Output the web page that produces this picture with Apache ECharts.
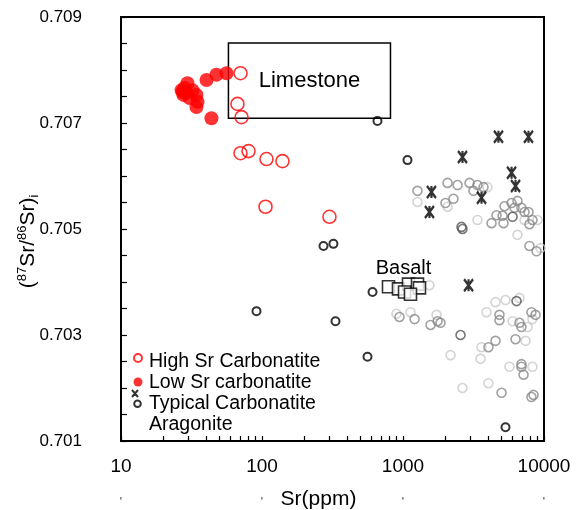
<!DOCTYPE html>
<html>
<head>
<meta charset="utf-8">
<script src="https://cdn.jsdelivr.net/npm/echarts@6/dist/echarts.min.js"></script>
<style>
  html, body { margin: 0; padding: 0; background: #fff; }
  #chart { width: 576px; height: 510px; }
</style>
</head>
<body>
<div id="chart"></div>
<script>
// Sr (ppm), (87Sr/86Sr)i
const highSr = [[70.4,0.70794],[67.0,0.70736],[71.6,0.70711],[70.4,0.70643],[80.2,0.70647],
  [107.6,0.70632],[139.7,0.70628],[105.9,0.70542],[301,0.70523]];
const lowSr = [[56.0,0.70794],[47.5,0.70791],[40.4,0.70781],[29.6,0.70775],[28.2,0.70766],
  [26.9,0.70762],[32.1,0.70762],[27.3,0.70759],[29.2,0.70757],[27.7,0.70753],[34.3,0.70753],
  [30.6,0.70747],[34.9,0.70740],[34.3,0.70730],[43.8,0.70709]];
const typical = [[659,0.70704],[1076,0.70630],[273,0.70468],[321,0.70472],[608,0.70381],
  [91.4,0.70345],[332,0.70326],[560,0.70259],[5333,0.70126]];
const aragonite = [[4755,0.70674],[7762,0.70674],[2642,0.70636],[5888,0.70606],[6281,0.70581],
  [1592,0.70570],[3605,0.70559],[1541,0.70532],[2917,0.70394]];
const basalt = [[789,0.70391],[929,0.70387],[1094,0.70396],[1267,0.70396],[1309,0.70389],
  [1025,0.70381],[1130,0.70377]];
// compiled carbonatites (grey shades)
const greyMid = [[1267,0.70572],[2070,0.70587],[2438,0.70583],[2000,0.70549],[2280,0.70557],
  [2965,0.70587],[3162,0.70572],[3373,0.70583],[3724,0.70579],[4246,0.70511],[4603,0.70526],
  [5082,0.70525],[5164,0.70511],[5248,0.70543],[5888,0.70549],[6486,0.70553],[6180,0.70540],
  [6918,0.70540],[7278,0.70532],[7762,0.70532],[7889,0.70509],[8279,0.70517],[7889,0.70468],
  [8851,0.70458],[944,0.70334],[1208,0.70330],[1567,0.70319],[1758,0.70326],[1845,0.70323],
  [4831,0.70338],[4831,0.70328],[6699,0.70323],[6918,0.70315],[8147,0.70343],[8710,0.70338],
  [4036,0.70277],[4529,0.70289],[6281,0.70292],[6918,0.70245],[6918,0.70240],[7161,0.70225],
  [5000,0.70191],[8147,0.70183],[8433,0.70187]];
const greyDark = [[2600,0.70504],[2642,0.70500],[5984,0.70523],[2559,0.70300],[6383,0.70364]];
const greyLight = [[1267,0.70551],[2070,0.70542],[3972,0.70579],[3373,0.70517],[8995,0.70517],
  [7278,0.70517],[6486,0.70489],[9441,0.70464],[899,0.70340],[1130,0.70343],[1729,0.70338],
  [3908,0.70343],[4529,0.70362],[5333,0.70366],[6699,0.70370],[5984,0.70326],[7638,0.70315],
  [8279,0.70330],[3605,0.70277],[7396,0.70289],[2173,0.70262],[3550,0.70255],[5689,0.70240],
  [8279,0.70240],[2642,0.70200],[4036,0.70209],[1541,0.70394]];

const limestoneX = [57.8, 815];
const limestoneY = [0.70709, 0.70851];
const basaltLabelAt = [1008, 0.70426];

const xTicks = [10,20,30,40,50,60,70,80,90,100,200,300,400,500,600,700,800,900,
  1000,2000,3000,4000,5000,6000,7000,8000,9000,10000];
const xLabels = [10, 100, 1000, 10000];
const yLabels = [0.701, 0.703, 0.705, 0.707, 0.709];

const FONT = 'Liberation Sans, Arial, sans-serif';
const ASTER = 'path://M0,0L8,11M8,0L0,11M4,0L4,11';

const chart = echarts.init(document.getElementById('chart'));

function greySeries(data, color) {
  return {
    type: 'scatter', data: data, symbol: 'circle', symbolSize: 9,
    itemStyle: { color: 'transparent', borderColor: color, borderWidth: 1.6 },
    silent: true
  };
}

chart.setOption({
  animation: false,
  backgroundColor: '#fff',
  grid: {
    left: 121, top: 17, right: 32, bottom: 69, outerBoundsMode: 'none',
    show: true, borderColor: '#000', borderWidth: 2
  },
  legend: {
    left: 131, top: 347, orient: 'vertical', padding: 0,
    itemWidth: 12, itemHeight: 28, itemGap: -8,
    selectedMode: false,
    textStyle: { fontFamily: FONT, fontSize: 19.5, color: '#000' },
    data: [
      { name: 'High Sr Carbonatite', icon: 'path://M0,0M12,28M2,10a4,4 0 1,0 8,0a4,4 0 1,0 -8,0' },
      { name: 'Low Sr carbonatite', icon: 'path://M0,0M12,28M1.5,13a4.5,4.5 0 1,0 9,0a4.5,4.5 0 1,0 -9,0' },
      { name: 'Typical Carbonatite', icon: 'path://M0,0M12,28M0,0L6,7M6,0L0,7M2.2,13.7a3.3,3.3 0 1,0 6.6,0a3.3,3.3 0 1,0 -6.6,0' },
      { name: 'Aragonite', icon: 'none' }
    ]
  },
  xAxis: {
    type: 'log', logBase: 10, min: 10, max: 10000,
    name: 'Sr(ppm)', nameLocation: 'middle', nameGap: 48, nameMoveOverlap: false,
    nameTextStyle: { fontFamily: FONT, fontSize: 21, color: '#000', padding: [0, 28, 0, 0] },
    axisLine: { lineStyle: { color: '#000', width: 2 } },
    axisTick: { inside: true, length: 5, customValues: xTicks, lineStyle: { color: '#000', width: 1.2 } },
    axisLabel: {
      customValues: xLabels, margin: 14,
      formatter: v => '{v|' + v + '}\n{q|\'}',
      rich: {
        v: { fontFamily: FONT, fontSize: 19, color: '#000', lineHeight: 24 },
        q: { fontFamily: FONT, fontSize: 12, color: '#444', lineHeight: 48 }
      }
    },
    splitLine: { show: false }
  },
  yAxis: {
    type: 'value', min: 0.701, max: 0.709, interval: 0.0005,
    name: '({sup|87}Sr/{sup|86}Sr){sub|i}', nameLocation: 'middle', nameGap: 80, nameRotate: 90,
    nameMoveOverlap: false,
    nameTextStyle: {
      fontFamily: FONT, fontSize: 21, color: '#000', padding: [0, 25, 0, 0],
      rich: {
        sup: { fontFamily: FONT, fontSize: 13, color: '#000', verticalAlign: 'top', lineHeight: 25 },
        sub: { fontFamily: FONT, fontSize: 13, color: '#000', verticalAlign: 'bottom', lineHeight: 25 }
      }
    },
    axisLine: { show: true, lineStyle: { color: '#000', width: 2 } },
    axisTick: { inside: true, length: 6, lineStyle: { color: '#000', width: 1.2 } },
    axisLabel: {
      customValues: yLabels, margin: 39,
      fontFamily: FONT, fontSize: 17, color: '#000',
      formatter: v => v.toFixed(3)
    },
    splitLine: { show: false }
  },
  series: [
    greySeries(greyLight, '#c9c9c9'),
    greySeries(greyMid, '#8a8a8a'),
    greySeries(greyDark, '#555'),
    {
      name: 'Limestone', type: 'scatter', data: [], silent: true,
      markArea: {
        silent: true,
        itemStyle: { color: 'transparent', borderColor: '#000', borderWidth: 1.5 },
        label: { show: true, position: 'inside', fontFamily: FONT, fontSize: 22, color: '#000' },
        data: [[
          { name: 'Limestone', coord: [limestoneX[0], limestoneY[1]] },
          { coord: [limestoneX[1], limestoneY[0]] }
        ]]
      }
    },
    {
      name: 'Basalt', type: 'scatter', data: basalt, symbol: 'rect', symbolSize: 12, silent: true,
      itemStyle: { color: '#fff', borderColor: '#000', borderWidth: 1.6 },
      markPoint: {
        silent: true, symbol: 'circle', symbolSize: 1,
        itemStyle: { color: 'transparent' },
        label: { show: true, position: 'inside', formatter: 'Basalt', fontFamily: FONT, fontSize: 20, color: '#000' },
        data: [{ coord: basaltLabelAt }]
      }
    },
    {
      name: 'Typical Carbonatite', type: 'scatter', data: typical, symbol: 'circle', symbolSize: 8, silent: true,
      itemStyle: { color: 'transparent', borderColor: '#000', borderWidth: 2 }
    },
    {
      name: 'Aragonite', type: 'scatter', data: aragonite, symbol: ASTER, symbolSize: [9, 12], silent: true,
      itemStyle: { color: 'transparent', borderColor: '#000', borderWidth: 2.5 }
    },
    {
      name: 'Low Sr carbonatite', type: 'scatter', data: lowSr, symbol: 'circle', symbolSize: 14, silent: true,
      itemStyle: { color: '#ff0000' }
    },
    {
      name: 'High Sr Carbonatite', type: 'scatter', data: highSr, symbol: 'circle', symbolSize: 13, silent: true,
      itemStyle: { color: 'transparent', borderColor: '#ff0000', borderWidth: 1.6 }
    }
  ]
});
</script>
</body>
</html>
